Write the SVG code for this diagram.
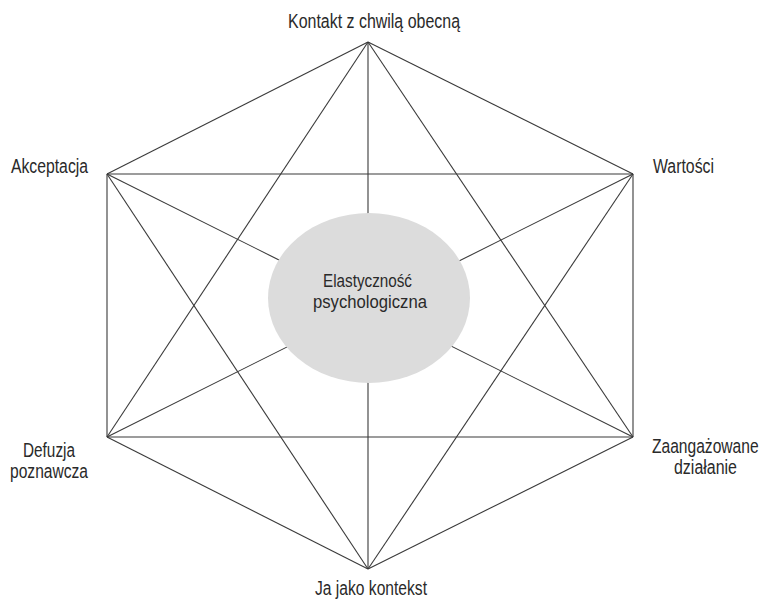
<svg xmlns="http://www.w3.org/2000/svg" width="762" height="600" viewBox="0 0 762 600">
<style>
.edge{stroke:#3a3a3a;stroke-width:1.1;fill:none}
.lbl{font-family:"Liberation Sans",Arial,sans-serif;font-size:19.5px;fill:#2a2a2a}
.ctr{font-family:"Liberation Sans",Arial,sans-serif;font-size:17.5px;fill:#2a2a2a}
</style>
<rect width="762" height="600" fill="#ffffff"/>
<g id="connectors">
<line class="edge" x1="368" y1="42" x2="107" y2="174"/>
<line class="edge" x1="368" y1="42" x2="633" y2="174"/>
<line class="edge" x1="368" y1="42" x2="107" y2="437"/>
<line class="edge" x1="368" y1="42" x2="633" y2="437"/>
<line class="edge" x1="368" y1="42" x2="368" y2="569"/>
<line class="edge" x1="107" y1="174" x2="633" y2="174"/>
<line class="edge" x1="107" y1="174" x2="107" y2="437"/>
<line class="edge" x1="107" y1="174" x2="633" y2="437"/>
<line class="edge" x1="107" y1="174" x2="368" y2="569"/>
<line class="edge" x1="633" y1="174" x2="633" y2="437"/>
<line class="edge" x1="633" y1="174" x2="107" y2="437"/>
<line class="edge" x1="633" y1="174" x2="368" y2="569"/>
<line class="edge" x1="107" y1="437" x2="633" y2="437"/>
<line class="edge" x1="107" y1="437" x2="368" y2="569"/>
<line class="edge" x1="633" y1="437" x2="368" y2="569"/>
</g>
<g id="center">
<ellipse cx="369" cy="298" rx="101" ry="85" fill="#dcdcdc"/>
<text class="ctr" x="323" y="287" textLength="89" lengthAdjust="spacingAndGlyphs">Elastyczność</text>
<text class="ctr" x="313" y="308" textLength="114" lengthAdjust="spacingAndGlyphs">psychologiczna</text>
</g>
<g id="kontakt"><text class="lbl" x="288" y="28" textLength="172" lengthAdjust="spacingAndGlyphs">Kontakt z chwilą obecną</text></g>
<g id="akceptacja"><text class="lbl" x="11" y="172.5" textLength="77" lengthAdjust="spacingAndGlyphs">Akceptacja</text></g>
<g id="wartosci"><text class="lbl" x="653" y="173" textLength="61" lengthAdjust="spacingAndGlyphs">Wartości</text></g>
<g id="defuzja"><text class="lbl" x="23" y="457" textLength="52" lengthAdjust="spacingAndGlyphs">Defuzja</text><text class="lbl" x="10" y="478" textLength="78" lengthAdjust="spacingAndGlyphs">poznawcza</text></g>
<g id="zaangazowane"><text class="lbl" transform="translate(652,453) scale(0.8,1)" x="0" y="0">Zaangażowane</text><text class="lbl" x="674" y="474" textLength="63" lengthAdjust="spacingAndGlyphs">działanie</text></g>
<g id="ja"><text class="lbl" x="315" y="595" textLength="112" lengthAdjust="spacingAndGlyphs">Ja jako kontekst</text></g>
</svg>
